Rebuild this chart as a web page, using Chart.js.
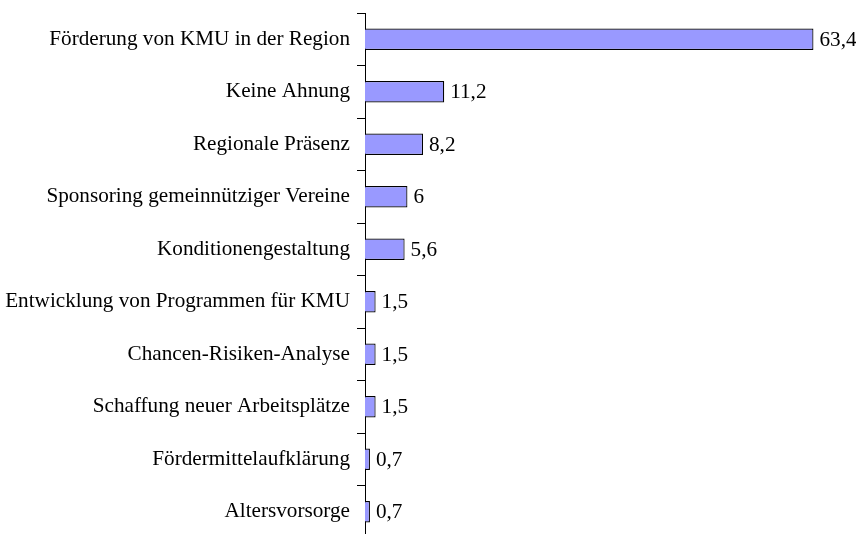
<!DOCTYPE html>
<html>
<head>
<meta charset="utf-8">
<script src="https://cdn.jsdelivr.net/npm/chart.js@4"></script>
<style>
  html, body { margin: 0; padding: 0; background: #fff; overflow: hidden; }
  #wrap { width: 856px; height: 538px; }
</style>
</head>
<body>
<div id="wrap"><canvas id="c" width="856" height="538"></canvas></div>
<script>
const categories = [
  "Förderung von KMU in der Region",
  "Keine Ahnung",
  "Regionale Präsenz",
  "Sponsoring gemeinnütziger Vereine",
  "Konditionengestaltung",
  "Entwicklung von Programmen für KMU",
  "Chancen-Risiken-Analyse",
  "Schaffung neuer Arbeitsplätze",
  "Fördermittelaufklärung",
  "Altersvorsorge"
];
const values = [63.4, 11.2, 8.2, 6, 5.6, 1.5, 1.5, 1.5, 0.7, 0.7];
const valueLabels = ["63,4", "11,2", "8,2", "6", "5,6", "1,5", "1,5", "1,5", "0,7", "0,7"];

const FONT = "'Liberation Serif', 'Times New Roman', serif";
const FSIZE = 21.2;

const labelPlugin = {
  id: 'valueLabels',
  afterDatasetsDraw(chart) {
    const ctx = chart.ctx;
    const meta = chart.getDatasetMeta(0);
    ctx.save();
    ctx.font = FSIZE + "px " + FONT;
    ctx.fillStyle = "#000";
    ctx.textAlign = "left";
    ctx.textBaseline = "middle";
    meta.data.forEach((bar, i) => {
      ctx.fillText(valueLabels[i], bar.x + 6, bar.y + 1);
    });
    ctx.restore();
  }
};

new Chart(document.getElementById('c'), {
  type: 'bar',
  data: {
    labels: categories,
    datasets: [{
      data: values,
      backgroundColor: '#9999FF',
      borderColor: '#000',
      borderWidth: 1.2,
      categoryPercentage: 1,
      barPercentage: 0.41
    }]
  },
  options: {
    indexAxis: 'y',
    responsive: false,
    animation: false,
    layout: { padding: { top: 13, right: 10, bottom: 0, left: 0 } },
    plugins: {
      legend: { display: false },
      tooltip: { enabled: false }
    },
    scales: {
      x: {
        display: false,
        min: 0,
        max: 68
      },
      y: {
        afterFit(scale) {
          scale.width = 365;
          scale.paddingTop = 0;
          scale.paddingBottom = 0;
        },
        grid: {
          drawOnChartArea: false,
          drawTicks: true,
          tickLength: 8,
          color: '#000',
          offset: true
        },
        border: { display: true, color: '#000', width: 1 },
        ticks: {
          color: '#000',
          padding: 7,
          font: { family: FONT, size: FSIZE }
        }
      }
    }
  },
  plugins: [labelPlugin]
});
</script>
</body>
</html>
